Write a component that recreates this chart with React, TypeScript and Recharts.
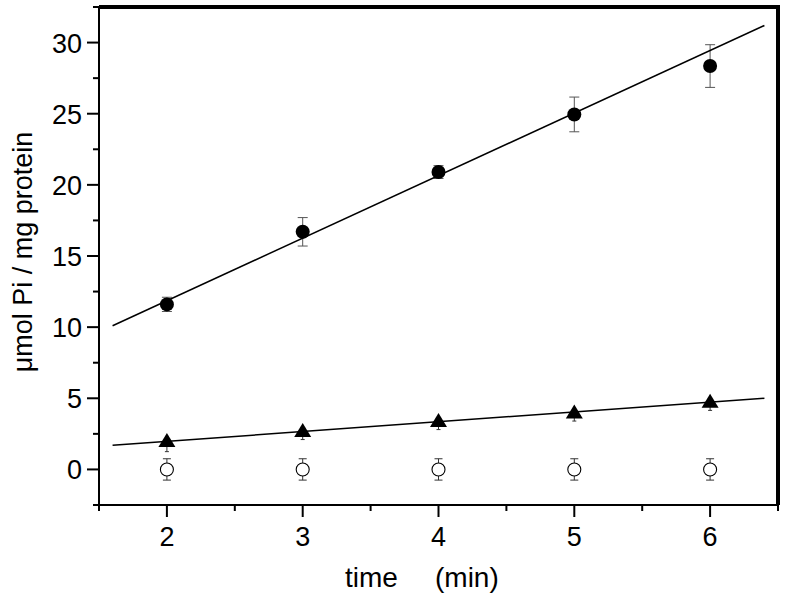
import { ScatterChart, Scatter, XAxis, YAxis } from 'recharts'

document.body.style.margin = '0'

// ── Data ──────────────────────────────────────────────────────────────────────

const times = [2, 3, 4, 5, 6]
const activeValues = [11.6, 16.7, 20.9, 24.95, 28.35]
const activeErrors = [0.5, 1.0, 0.45, 1.22, 1.5]
const lowValues = [2.0, 2.7, 3.4, 4.0, 4.75]
const lowErrors = [0.75, 0.6, 0.6, 0.6, 0.6]
const blankValues = [0, 0, 0, 0, 0]
const blankErrors = [0.75, 0.75, 0.75, 0.75, 0.75]

// fitted lines: end points as drawn
const fitX = [1.6, 6.4]
const activeFitY = [10.1, 31.2]
const lowFitY = [1.7, 5.0]

const xMajor = [2, 3, 4, 5, 6]
const xMinor = [1.5, 2.5, 3.5, 4.5, 5.5, 6.5]
const yMajor = [0, 5, 10, 15, 20, 25, 30]
const yMinor = [-2.5, 2.5, 7.5, 12.5, 17.5, 22.5, 27.5, 32.5]

// top and right edges of the frame
const frameX = [1.5, 6.5, 6.5]
const frameY = [32.5, 32.5, -2.5]

const FONT = 'Arial, "Liberation Sans", sans-serif'

const toPoints = (values: number[]) => times.map((t, i) => ({ x: t, y: values[i] }))
const activeData = toPoints(activeValues)
const lowData = toPoints(lowValues)
const blankData = toPoints(blankValues)
const activeFit = fitX.map((x, i) => ({ x, y: activeFitY[i] }))
const lowFit = fitX.map((x, i) => ({ x, y: lowFitY[i] }))
const frame = frameX.map((x, i) => ({ x, y: frameY[i] }))

// each error bar is a two-point segment, so it can sit under the markers
const errorSegments = (values: number[], lower: number[], upper: number[]) =>
  times.map((t, i) => [
    { x: t, y: values[i] - lower[i] },
    { x: t, y: values[i] + upper[i] },
  ])
const zeros = times.map(() => 0)

// ── Marker shapes ─────────────────────────────────────────────────────────────

const FilledCircle = (p: any) => <circle cx={p.cx} cy={p.cy} r={7} fill="#000" />
const Triangle = (p: any) => (
  <polygon
    points={`${p.cx},${p.cy - 8} ${p.cx - 8.5},${p.cy + 6} ${p.cx + 8.5},${p.cy + 6}`}
    fill="#000"
  />
)
const OpenCircle = (p: any) => (
  <circle cx={p.cx} cy={p.cy} r={6.5} fill="#fff" stroke="#000" strokeWidth={1.1} />
)
const NoShape = () => <g />
const cap = (half: number, color: string) => (p: any) =>
  <line x1={p.cx - half} x2={p.cx + half} y1={p.cy} y2={p.cy} stroke={color} strokeWidth={1} />

// ── Ticks ─────────────────────────────────────────────────────────────────────

function XTick(p: any) {
  const v = p.payload.value
  const major = xMajor.includes(v)
  return (
    <g>
      <line x1={p.x} x2={p.x} y1={p.y} y2={p.y + (major ? 12 : 6)} stroke="#000" strokeWidth={2} />
      {major && (
        <text x={p.x} y={p.y + 41} textAnchor="middle" fontSize={27} fontFamily={FONT} fill="#000">
          {v}
        </text>
      )}
    </g>
  )
}

function YTick(p: any) {
  const v = p.payload.value
  const major = yMajor.includes(v)
  return (
    <g>
      <line x1={p.x - (major ? 12 : 6)} x2={p.x} y1={p.y} y2={p.y} stroke="#000" strokeWidth={2} />
      {major && (
        <text x={p.x - 17} y={p.y + 10} textAnchor="end" fontSize={27} fontFamily={FONT} fill="#000">
          {v}
        </text>
      )}
    </g>
  )
}

// ── Chart ─────────────────────────────────────────────────────────────────────

export default function App() {
  const bars = [
    ...errorSegments(blankValues, blankErrors, blankErrors).map((d) => ({ d, half: 4, color: '#333' })),
    ...errorSegments(lowValues, lowErrors, zeros).map((d) => ({ d, half: 2, color: '#333' })),
    ...errorSegments(activeValues, activeErrors, activeErrors).map((d) => ({ d, half: 5, color: '#555' })),
  ]
  return (
    <ScatterChart width={786} height={599} margin={{ top: 7, right: 8, bottom: 0, left: 0 }}>
      <XAxis
        type="number"
        dataKey="x"
        domain={[1.5, 6.5]}
        ticks={[...xMinor, ...xMajor].sort((a, b) => a - b)}
        interval={0}
        height={94}
        tickSize={0}
        tickMargin={0}
        tickLine={false}
        tick={<XTick />}
        axisLine={{ stroke: '#000', strokeWidth: 2 }}
        label={{
          content: () => (
            <text x={345} y={587} fontSize={28} fontFamily={FONT} fill="#000">
              time
              <tspan x={435}>(min)</tspan>
            </text>
          ),
        }}
      />
      <YAxis
        type="number"
        dataKey="y"
        domain={[-2.5, 32.5]}
        ticks={[...yMinor, ...yMajor].sort((a, b) => a - b)}
        interval={0}
        width={99}
        tickSize={0}
        tickMargin={0}
        tickLine={false}
        tick={<YTick />}
        axisLine={{ stroke: '#000', strokeWidth: 2 }}
        label={{
          content: () => (
            <text
              x={32}
              y={252}
              transform="rotate(-90 32 252)"
              textAnchor="middle"
              fontSize={27}
              fontFamily={FONT}
              fill="#000"
            >
              μmol Pi / mg protein
            </text>
          ),
        }}
      />

      {/* error bars */}
      {bars.map((b, i) => (
        <Scatter
          key={i}
          data={b.d}
          line={{ stroke: b.color, strokeWidth: 1 }}
          shape={cap(b.half, b.color)}
          isAnimationActive={false}
        />
      ))}

      {/* fitted lines */}
      <Scatter data={activeFit} line={{ stroke: '#000', strokeWidth: 1.5 }} shape={NoShape} isAnimationActive={false} />
      <Scatter data={lowFit} line={{ stroke: '#000', strokeWidth: 1.5 }} shape={NoShape} isAnimationActive={false} />

      {/* markers */}
      <Scatter data={blankData} shape={OpenCircle} isAnimationActive={false} />
      <Scatter data={lowData} shape={Triangle} isAnimationActive={false} />
      <Scatter data={activeData} shape={FilledCircle} isAnimationActive={false} />

      {/* frame (half of the stroke is clipped at the plot edge) */}
      <Scatter data={frame} line={{ stroke: '#000', strokeWidth: 4 }} shape={NoShape} isAnimationActive={false} />
    </ScatterChart>
  )
}
